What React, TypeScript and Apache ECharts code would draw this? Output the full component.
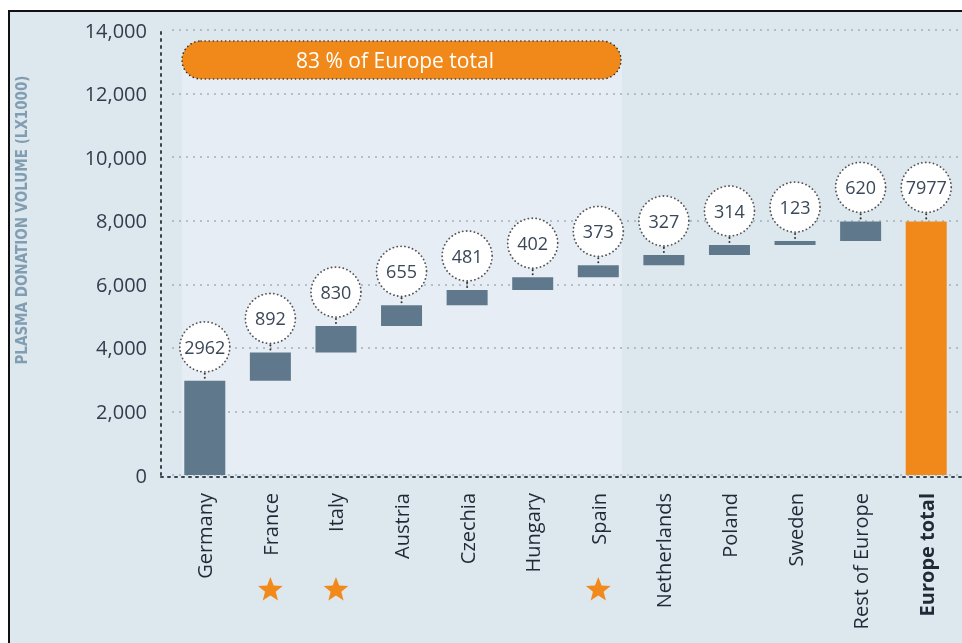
import React, { useEffect, useRef } from "react";
import * as echarts from "echarts";

const categories = [
  "Germany", "France", "Italy", "Austria", "Czechia", "Hungary", "Spain",
  "Netherlands", "Poland", "Sweden", "Rest of Europe", "Europe total",
];
const contributions = [2962, 892, 830, 655, 481, 402, 373, 327, 314, 123, 620];
const europeTotal = 7977;
const starred = ["France", "Italy", "Spain"];
const yTicks = [0, 2000, 4000, 6000, 8000, 10000, 12000, 14000];
const shareLabel = "83 % of Europe total";
const yAxisTitle = "PLASMA DONATION VOLUME (LX1000)";

const FONT = "'Open Sans', 'Noto Sans', sans-serif";

export default function App() {
  const ref = useRef<HTMLDivElement>(null);

  useEffect(() => {
    if (!ref.current) return;
    const chart = echarts.init(ref.current, null, { renderer: "svg" });

    // waterfall bases and visible parts
    const bases: number[] = [];
    const shown: number[] = [];
    let run = 0;
    contributions.forEach((v) => {
      bases.push(run);
      shown.push(v);
      run += v;
    });
    bases.push(0);
    shown.push(europeTotal);
    const labels = [...contributions, europeTotal];
    const tops = bases.map((b, i) => b + shown[i]);

    const bubbleData = categories.map((_, i) => [i, tops[i], labels[i]]);
    const starData = starred.map((c) => [categories.indexOf(c), 0]);

    const option: any = {
      animation: false,
      grid: { left: 172, right: 3, top: 30, bottom: 168, containLabel: false },
      xAxis: {
        type: "category",
        data: categories,
        axisLine: { show: false },
        axisTick: { show: false },
        axisLabel: {
          rotate: 90,
          margin: 18,
          fontFamily: FONT,
          fontSize: 20,
          color: "#1f2a36",
          formatter: (v: string) => (v === "Europe total" ? "{b|" + v + "}" : v),
          rich: { b: { fontWeight: "bold", fontFamily: FONT, fontSize: 20, color: "#1f2a36" } },
        },
      },
      yAxis: {
        type: "value",
        min: yTicks[0],
        max: yTicks[yTicks.length - 1],
        interval: 2000,
        offset: 11,
        axisLine: {
          show: true,
          lineStyle: { color: "#3a4450", width: 2, type: [2, 5], cap: "round" },
        },
        axisTick: { show: false },
        axisLabel: {
          margin: 14,
          fontFamily: FONT,
          fontSize: 20,
          color: "#2f3d4c",
          formatter: (v: number) => v.toLocaleString("en-US"),
        },
        splitLine: {
          show: true,
          lineStyle: { color: "#a3b1bc", width: 1.5, type: [2, 5] },
        },
      },
      graphic: [
        { type: "rect", z: -20, silent: true, shape: { x: 9, y: 11, width: 960, height: 640 }, style: { fill: "#dde7ee" } },
        { type: "line", z: 50, silent: true, shape: { x1: 9, y1: 10, x2: 9, y2: 643 }, style: { stroke: "#111", lineWidth: 2 } },
        { type: "line", z: 50, silent: true, shape: { x1: 8, y1: 11, x2: 962, y2: 11 }, style: { stroke: "#111", lineWidth: 2 } },
        { type: "rect", z: -10, silent: true, shape: { x: 182, y: 60, width: 440, height: 414 }, style: { fill: "#e6edf4" } },
        {
          type: "line", z: 40, silent: true,
          shape: { x1: 161, y1: 477, x2: 962, y2: 477 },
          style: { stroke: "#3a4450", lineWidth: 2, lineDash: [2, 5], lineCap: "round" },
        },
        {
          type: "rect", z: 100, silent: true,
          shape: { x: 182, y: 41, width: 439, height: 38, r: 19 },
          style: { fill: "#f0891a", stroke: "#333", lineWidth: 1.6, lineDash: [0.1, 4], lineCap: "round" },
        },
        {
          type: "text", z: 101, silent: true, x: 395, y: 60,
          style: {
            text: shareLabel, fill: "#ffffff", fontFamily: FONT, fontSize: 21,
            align: "center", verticalAlign: "middle", textAlign: "center", textVerticalAlign: "middle",
          },
        },
        {
          type: "text", z: 10, silent: true, x: 22, y: 220, rotation: Math.PI / 2,
          style: {
            text: yAxisTitle, fill: "#819db2", fontFamily: "'Liberation Sans Narrow', 'DejaVu Sans Condensed', sans-serif",
            fontSize: 15, fontWeight: "bold",
            align: "center", verticalAlign: "middle", textAlign: "center", textVerticalAlign: "middle",
          },
        },
      ],
      series: [
        {
          type: "bar",
          stack: "w",
          silent: true,
          barWidth: 41,
          itemStyle: { color: "transparent" },
          data: bases,
        },
        {
          type: "bar",
          stack: "w",
          silent: true,
          barWidth: 41,
          data: shown.map((v, i) => ({
            value: v,
            itemStyle: { color: i === shown.length - 1 ? "#f0891a" : "#5f788c" },
          })),
        },
        {
          type: "custom",
          z: 5,
          silent: true,
          clip: false,
          encode: { x: 0, y: 1 },
          data: bubbleData,
          renderItem: (_p: any, api: any) => {
            const pt = api.coord([api.value(0), api.value(1)]);
            const cx = pt[0];
            const by = pt[1];
            const r = 25;
            const cy = by - 9 - r;
            return {
              type: "group",
              children: [
                {
                  type: "line",
                  shape: { x1: cx, y1: by - 3, x2: cx, y2: by - 9 },
                  style: { stroke: "#333", lineWidth: 2, lineDash: [0.1, 4], lineCap: "round" },
                },
                {
                  type: "circle",
                  shape: { cx, cy, r },
                  style: { fill: "#ffffff", stroke: "#555", lineWidth: 1.8, lineDash: [0.1, 3.8], lineCap: "round" },
                },
                {
                  type: "text",
                  x: cx,
                  y: cy,
                  style: {
                    text: String(api.value(2)),
                    fill: "#3a4858",
                    fontFamily: FONT,
                    fontSize: 18,
                    align: "center",
                    verticalAlign: "middle",
                    textAlign: "center",
                    textVerticalAlign: "middle",
                  },
                },
              ],
            };
          },
        },
        {
          type: "custom",
          z: 5,
          silent: true,
          clip: false,
          encode: { x: 0, y: 1 },
          data: starData,
          renderItem: (_p: any, api: any) => {
            const pt = api.coord([api.value(0), api.value(1)]);
            const cx = pt[0];
            const cy = pt[1] + 115;
            const pts: number[][] = [];
            for (let k = 0; k < 10; k++) {
              const a = -Math.PI / 2 + (k * Math.PI) / 5;
              const rr = k % 2 === 0 ? 13 : 5.6;
              pts.push([cx + rr * Math.cos(a), cy + rr * Math.sin(a)]);
            }
            return { type: "polygon", shape: { points: pts }, style: { fill: "#f28a1b" } };
          },
        },
      ],
    };

    chart.setOption(option);
    return () => chart.dispose();
  }, []);

  return (
    <div
      ref={ref}
      style={{ position: "fixed", left: 0, top: 0, width: 962, height: 643 }}
    />
  );
}
